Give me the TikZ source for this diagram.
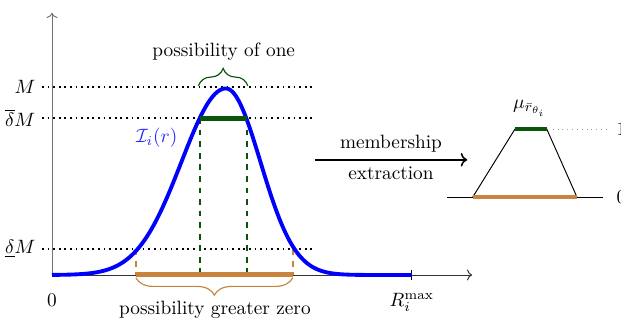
\documentclass[tikz,border=0pt]{standalone}
\usepackage{amsmath,amssymb}
\usepackage{xcolor}
\usepackage{tikz}
\usetikzlibrary{arrows.meta,positioning,calc,decorations.pathreplacing}
\definecolor{curveblue}{HTML}{0000FF}
\definecolor{onegreen}{HTML}{0A550A}
\definecolor{posorange}{HTML}{C8843C}
\definecolor{guide}{HTML}{A0A0A0}
\tikzset{
  axisline/.style={->,line width=0.5pt,black!80},
  levelline/.style={dotted,line width=0.9pt,black},
  curveline/.style={line width=2pt,curveblue},
  onebar/.style={line width=2.6pt,onegreen},
  posbar/.style={line width=2.6pt,posorange},
  onedrop/.style={dashed,line width=0.8pt,onegreen},
  posdrop/.style={dashed,line width=0.8pt,posorange},
  bracetop/.style={decorate,decoration={brace,amplitude=9pt},line width=0.6pt,onegreen},
  bracebottom/.style={decorate,decoration={brace,amplitude=9pt,mirror},line width=0.6pt,posorange},
  arrowextract/.style={->,line width=0.8pt,black},
}
\begin{document}
\begin{tikzpicture}
  \useasboundingbox(-0.948,-0.820)rectangle(10.373,5.013);
  \coordinate(origin)at(0,0);
  \coordinate(xend)at(7.66,0);
  \coordinate(yend)at(0,4.78);
  \draw[axisline](origin)--(xend);
  \draw[axisline,black!55](origin)--(yend);
  \node(zero)at(0,-0.46){$0$};
  \draw(6.56,-0.1)coordinate(rtickb)--(6.56,0.1)coordinate(rtickt);
  \node(rmax)at(6.56,-0.50){$R_i^{\max}$};
  \node(lvM)[anchor=east]at(-0.18,3.43){$M$};
  \node(lvup)[anchor=east]at(-0.18,2.86){$\overline{\delta}M$};
  \node(lvlow)[anchor=east]at(-0.18,0.47){$\underline{\delta}M$};
  \draw[levelline](lvM.east)--(4.81,3.43)coordinate(lvMend);
  \draw[levelline](lvup.east)--(4.81,2.86)coordinate(lvupend);
  \draw[levelline](lvlow.east)--(4.81,0.47)coordinate(lvlowend);
  \draw[onedrop](2.70,2.86)coordinate(oneL)--(2.70,0);
  \draw[onedrop](3.55,2.86)coordinate(oneR)--(3.55,0);
  \draw[posdrop](1.53,0.47)--(1.53,0)coordinate(posL);
  \draw[posdrop](4.39,0.47)--(4.39,0)coordinate(posR);
  \draw[posbar](posL)--(posR);
  \draw[curveline]plot[domain=0:6.56,samples=160,smooth]
    (\x,{3.40*exp(-((\x-3.17)^2)/(2*((\x<3.17?0.81:0.63)^2)))});
  \draw[onebar](oneL)--(oneR);
  \node(curvename)[curveblue!85]at(1.91,2.50){$\mathcal{I}_i(r)$};
  \draw[bracetop](2.67,3.45)--(3.57,3.45)coordinate[midway](bracetip);
  \node(onetext)at(3.13,4.07){possibility of one};
  \draw[bracebottom](1.53,-0.05)--(4.39,-0.05);
  \node(postext)at(2.97,-0.64){possibility greater zero};
  \coordinate(exstart)at(4.79,2.10);
  \coordinate(exend)at(7.57,2.10);
  \draw[arrowextract](exstart)--(exend)
    node(exabove)[midway,above]{membership}
    node(exbelow)[midway,below]{extraction};
  \coordinate(tbl)at(7.67,1.42);
  \coordinate(tbr)at(9.57,1.42);
  \coordinate(ttl)at(8.44,2.66);
  \coordinate(ttr)at(9.02,2.66);
  \draw[line width=0.5pt](7.20,1.42)--(10.04,1.42)coordinate(baseend);
  \draw[line width=0.5pt](tbl)--(ttl);
  \draw[line width=0.5pt](ttr)--(tbr);
  \draw[dotted,guide,line width=0.5pt](9.13,2.66)--(10.10,2.66)coordinate(topend);
  \draw[line width=1.8pt,onegreen](ttl)--(ttr);
  \draw[line width=1.8pt,posorange](tbl)--(tbr);
  \node(mutext)at(8.71,3.04){$\mu_{\bar{r}_{\theta_i}}$};
  \node(one)[anchor=west]at(10.17,2.66){$1$};
  \node(nil)[anchor=west]at(10.17,1.42){$0$};
\end{tikzpicture}
\end{document}
